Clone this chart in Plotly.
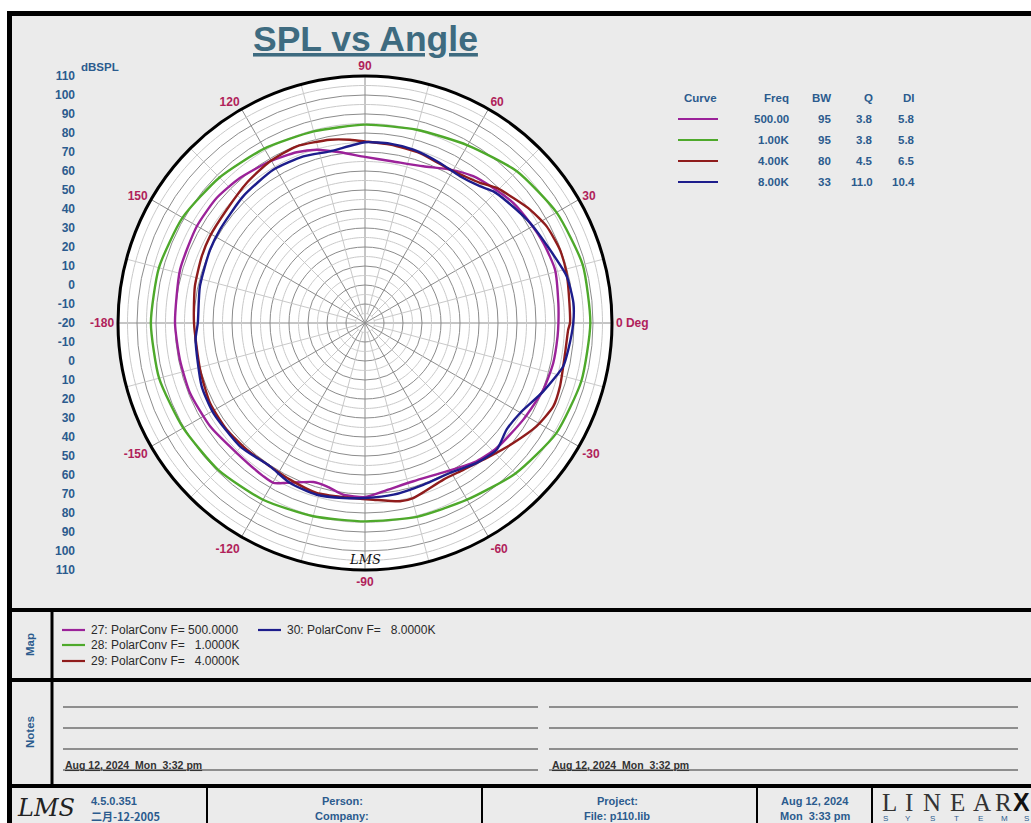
import numpy as np
import plotly.graph_objects as go

W, H = 1031, 823

# ---------------- data ----------------
curve_ids = ["27", "28", "29", "30"]
curve_freq_text = [" 500.0000", "   1.0000K", "   4.0000K", "   8.0000K"]
freq_labels = ["500.00", "1.00K", "4.00K", "8.00K"]
bw_values = ["95", "95", "80", "33"]
q_values = ["3.8", "3.8", "4.5", "11.0"]
di_values = ["5.8", "5.8", "6.5", "10.4"]
curve_colors = ["#9b2299", "#4ea92b", "#8f1c1c", "#1d1d8c"]

angle_ticks = [0, 30, 60, 90, 120, 150, 180, 210, 240, 270, 300, 330]
angle_labels = ["0 Deg", "30", "60", "90", "120", "150", "-180", "-150", "-120", "-90", "-60", "-30"]
radial_ticks = [-20, -10, 0, 10, 20, 30, 40, 50, 60, 70, 80, 90, 100, 110]

# 500 Hz (curve 27)
theta_500 = [0, 5.9, 15.7, 24.2, 31.2, 39, 46.5, 53.6, 61, 69.6, 80.1, 90, 98.3, 105.6, 111.8,
             120.4, 130.8, 139.9, 150.1, 163.9, 180,
             -168.8, -158.2, -146.3, -134.6, -123.5, -119.8, -116.1, -108, -103.2, -97.2, -90,
             -83.8, -73, -61.2, -51.1, -43.5, -31.4, -20.5, -12, -4, 0]
spl_500 = [81.8, 82.3, 83.9, 82.9, 81.6, 80.4, 78.0, 76.0, 72.3, 68.0, 66.3, 67.4, 70.8, 74.7, 76.8,
           78.7, 80.8, 82.1, 82.1, 81.3, 80.0,
           79.3, 79.2, 78.0, 76.1, 76.8, 77.0, 73.7, 68.0, 68.3, 71.1, 71.6,
           69.1, 67.1, 69.1, 73.5, 75.6, 77.6, 80.2, 81.3, 81.6, 81.8]

# 1 kHz (curve 28)
theta_1k = [0, 15, 30, 45, 60, 75, 90, 105, 120, 135, 150, 165, 180,
            -165, -150, -135, -120, -105, -90, -75, -60, -45, -30, -15, 0]
spl_1k = [98.6, 98.6, 96.4, 93.0, 88.0, 85.3, 84.4, 84.4, 86.0, 88.3, 90.9, 92.3, 92.7,
          92.2, 90.5, 89.3, 87.4, 85.3, 84.4, 85.6, 87.4, 92.0, 96.2, 97.9, 98.6]

# 4 kHz (curve 29)
theta_4k = [0, 5.6, 13.9, 20.6, 28, 34.5, 40.1, 45.7, 50.6, 56.3, 61, 72.1, 82, 90, 94.7, 100.8,
            111.1, 120.4, 130.2, 140.7, 150.8, 157.8, 167.8, 180,
            -164.2, -152.7, -142.4, -133, -123.5, -115.6, -105.9, -97.1, -87.3, -78.9, -74.6,
            -63.4, -56.2, -46.8, -39, -31, -23.9, -18, -8.5, -1.9, 0]
spl_4k = [87.9, 88.1, 89.3, 89.6, 88.3, 85.4, 82.1, 79.3, 75.4, 73.2, 72.3, 74.0, 74.8, 75.6, 76.8, 78.2,
          79.7, 78.7, 76.5, 74.1, 73.5, 72.8, 71.6, 70.0,
          70.2, 71.8, 71.9, 71.2, 70.5, 71.4, 73.0, 72.4, 73.1, 75.6, 75.6,
          72.2, 73.0, 76.2, 80.4, 85.4, 88.4, 87.9, 86.5, 87.0, 87.9]

# 8 kHz (curve 30)
theta_8k = [0, 5.5, 13, 21.6, 31.2, 40.7, 45.7, 50, 57.1, 64.9, 74.4, 82.1, 90, 101.5, 110.3,
            120.9, 133.8, 147.2, 154.7, 167.5, 180,
            -174.4, -158.8, -149.3, -135.4, -123.5, -115.1, -105.7, -97, -90, -80.6, -70.2,
            -60.5, -51.4, -43.9, -37, -30.1, -21, -12.3, -7.5, 0]
spl_8k = [89.6, 90.2, 89.0, 84.7, 81.6, 78.3, 76.8, 74.0, 72.0, 73.0, 74.7, 75.3, 75.1, 72.2, 73.5,
          74.0, 72.5, 70.8, 70.2, 69.0, 68.0,
          69.6, 72.2, 72.8, 72.4, 70.5, 73.0, 73.9, 72.8, 72.1, 71.6, 70.5,
          70.7, 74.2, 76.2, 73.3, 74.4, 80.5, 86.8, 87.9, 89.6]

series_theta = [theta_500, theta_1k, theta_4k, theta_8k]
series_spl = [spl_500, spl_1k, spl_4k, spl_8k]

# ---------------- helpers ----------------
def px(x):
    return x / W


def py(y):
    return 1 - y / H


FONT = "Liberation Sans, Arial, sans-serif"
BLUE_TXT = "#2b5b8e"
ANG_TXT = "#b0225a"

fig = go.Figure()

# minor grid (light) for the polar plot
r_min, r_max = radial_ticks[0], radial_ticks[-1]
circ = np.linspace(0, 360, 241)
for r in np.arange(r_min + 5, r_max, 10):
    fig.add_trace(go.Scatterpolar(r=np.full_like(circ, r), theta=circ, mode="lines",
                                  line=dict(color="#c9c9c9", width=1), hoverinfo="skip",
                                  showlegend=False))
for a in np.arange(15, 360, 30):
    fig.add_trace(go.Scatterpolar(r=[r_min + 5, r_max], theta=[a, a], mode="lines",
                                  line=dict(color="#c9c9c9", width=1), hoverinfo="skip",
                                  showlegend=False))

# curves
for i in range(4):
    fig.add_trace(go.Scatterpolar(
        r=series_spl[i], theta=series_theta[i], mode="lines",
        line=dict(color=curve_colors[i], width=2.4, shape="spline", smoothing=0.6),
        name=f"{curve_ids[i]}: PolarConv F={curve_freq_text[i]}", showlegend=False))

# invisible helper trace so the left dBSPL scale axis is drawn
span = r_max - r_min
fig.add_trace(go.Scatter(x=[0, 0], y=[-span, span], mode="markers",
                         marker=dict(opacity=0), hoverinfo="skip", showlegend=False,
                         xaxis="x", yaxis="y"))

tickvals, ticktext = [], []
for t in radial_ticks:
    v = t - r_min
    tickvals.append(v)
    ticktext.append(str(t))
    if v != 0:
        tickvals.append(-v)
        ticktext.append(str(t))

# polar geometry (pixels)
cx, cy, rad = 365, 323, 247

fig.update_layout(
    template="none",
    width=W, height=H, autosize=False,
    margin=dict(l=0, r=0, t=0, b=0, pad=0, autoexpand=False),
    paper_bgcolor="white",
    plot_bgcolor="rgba(0,0,0,0)",
    showlegend=False,
    polar=dict(
        domain=dict(x=[px(cx - rad), px(cx + rad)], y=[py(cy + rad), py(cy - rad)]),
        bgcolor="white",
        radialaxis=dict(range=[r_min, r_max], tickvals=radial_ticks[1:-1], showticklabels=False,
                        ticks="", showline=False, gridcolor="#8c8c8c", gridwidth=1),
        angularaxis=dict(rotation=0, direction="counterclockwise", tickvals=angle_ticks,
                         ticktext=angle_labels, ticks="", showline=True, linecolor="black",
                         linewidth=3, gridcolor="#8c8c8c", gridwidth=1,
                         tickfont=dict(family=FONT, size=12, color=ANG_TXT, weight="bold")),
    ),
    xaxis=dict(domain=[px(76), px(77)], visible=False, range=[-1, 1], fixedrange=True,
               automargin=False),
    yaxis=dict(domain=[py(cy + rad), py(cy - rad)], range=[-span, span], anchor="x",
               tickvals=tickvals, ticktext=ticktext, showgrid=False, zeroline=False,
               showline=False, ticks="", side="left", automargin=False,
               tickfont=dict(family=FONT, size=12, color=BLUE_TXT, weight="bold")),
)

shapes = []
# main frame
shapes.append(dict(type="rect", xref="paper", yref="paper", x0=px(9.5), x1=px(1050), y0=py(13.5), y1=py(850),
                   fillcolor="#ebebeb", line=dict(color="black", width=5), layer="below"))
for yy in [610, 680, 786]:
    shapes.append(dict(type="line", xref="paper", yref="paper", x0=px(9), x1=px(1040), y0=py(yy), y1=py(yy),
                       line=dict(color="black", width=4)))
shapes.append(dict(type="line", xref="paper", yref="paper", x0=px(52), x1=px(52), y0=py(610), y1=py(786),
                   line=dict(color="black", width=3)))
for xx in [207, 482, 757, 872]:
    shapes.append(dict(type="line", xref="paper", yref="paper", x0=px(xx), x1=px(xx), y0=py(786), y1=py(830),
                       line=dict(color="black", width=2)))
# notes lines
for yy in [707, 728, 749, 770]:
    for (xa, xb) in [(63, 538), (549, 1018)]:
        shapes.append(dict(type="line", xref="paper", yref="paper", x0=px(xa), x1=px(xb), y0=py(yy), y1=py(yy),
                           line=dict(color="#333333", width=1.2)))

annotations = []


def ann(text, x, y, size=12, color=BLUE_TXT, xanchor="center", bold=True, family=FONT, angle=0, **kw):
    annotations.append(dict(text=text, x=px(x), y=py(y), xref="paper", yref="paper", showarrow=False,
                            xanchor=xanchor, yanchor="middle", textangle=angle,
                            font=dict(family=family, size=size, color=color,
                                      weight="bold" if bold else "normal"), **kw))


# title
ann("<u>SPL vs Angle</u>", 365, 39, size=35.5, color="#3e6b80")
ann("dBSPL", 79, 67, size=11.5, xanchor="left")
ann("<i>LMS</i>", 365, 559, size=13, color="#111111", bold=False, family="DejaVu Serif, serif")

# curve table
table_y = [119, 140, 161, 182]
ann("Curve", 700, 98, size=11.5)
ann("Freq", 791, 98, size=11.5, xanchor="right")
ann("BW", 833, 98, size=11.5, xanchor="right")
ann("Q", 875, 98, size=11.5, xanchor="right")
ann("DI", 917, 98, size=11.5, xanchor="right")
for i in range(4):
    yy = table_y[i]
    shapes.append(dict(type="line", xref="paper", yref="paper", x0=px(678), x1=px(718), y0=py(yy), y1=py(yy),
                       line=dict(color=curve_colors[i], width=2.2)))
    ann(freq_labels[i], 791, yy, size=11.5, xanchor="right")
    ann(bw_values[i], 833, yy, size=11.5, xanchor="right")
    ann(q_values[i], 875, yy, size=11.5, xanchor="right")
    ann(di_values[i], 917, yy, size=11.5, xanchor="right")

# map legend
map_pos = [(62, 630), (62, 645), (62, 661), (258, 630)]
for i in range(4):
    x0, yy = map_pos[i]
    shapes.append(dict(type="line", xref="paper", yref="paper", x0=px(x0), x1=px(x0 + 23), y0=py(yy), y1=py(yy),
                       line=dict(color=curve_colors[i], width=2.2)))
    label = f"{curve_ids[i]}: PolarConv F={curve_freq_text[i]}".replace(" ", "\u00a0")
    ann(label, x0 + 27, yy, size=12, color="#2a2a2a", xanchor="left", bold=False)

ann("Map", 30, 645, size=11.5, angle=-90)
ann("Notes", 30, 732, size=11.5, angle=-90)

date_txt = "<u>Aug 12, 2024\u00a0\u00a0Mon\u00a0\u00a03:32 pm</u>"
ann(date_txt, 63, 765, size=10.5, color="#333333", xanchor="left")
ann(date_txt, 550, 765, size=10.5, color="#333333", xanchor="left")

# footer
ann("<i>LMS</i>", 46, 808, size=24, color="#222222", bold=False, family="DejaVu Serif, serif")
ann("4.5.0.351", 89, 801, size=11, xanchor="left")
ann("二月-12-2005", 89, 816, size=11, xanchor="left", family="Noto Sans CJK SC, " + FONT)
ann("Person:", 342, 801, size=11)
ann("Company:", 342, 816, size=11)
ann("Project:", 617, 801, size=11)
ann("File: p110.lib", 617, 816, size=11)
ann("Aug 12, 2024", 815, 801, size=11)
ann("Mon\u00a0\u00a03:33 pm", 815, 816, size=11)
logo_letters = ["L", "I", "N", "E", "A", "R"]
logo_x = [889, 909, 932, 957, 982, 1003]
for ch, xx in zip(logo_letters, logo_x):
    ann(ch, xx, 802, size=25, color="#333333", bold=False, family="Liberation Serif, DejaVu Serif, serif")
ann("X", 1021, 802, size=25, color="#111111", family="Liberation Sans, Arial, sans-serif")
sys_letters = ["S", "Y", "S", "T", "E", "M", "S"]
sys_x = [885, 908, 932, 956, 980, 1004, 1026]
for ch, xx in zip(sys_letters, sys_x):
    ann(ch, xx, 818, size=8, color=BLUE_TXT, bold=False)

fig.update_layout(shapes=shapes, annotations=annotations)

fig.write_html("out.html", config={"displayModeBar": False},
               post_script="document.body.style.margin='0';document.body.style.overflow='hidden';")
